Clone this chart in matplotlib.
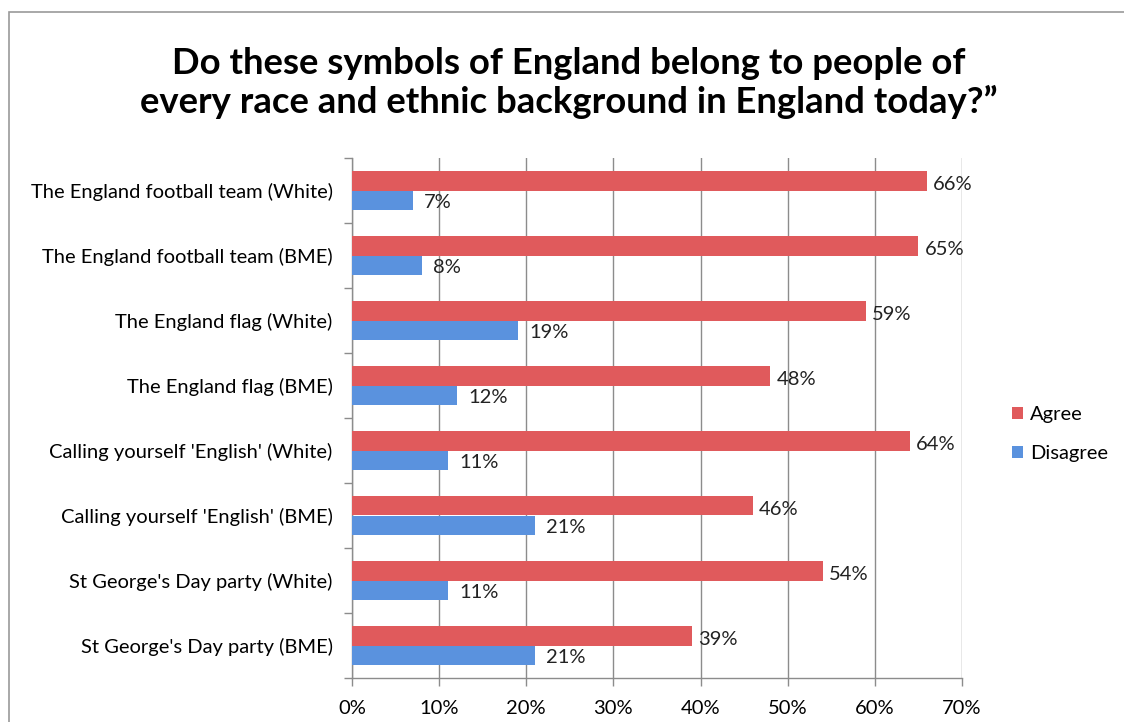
import matplotlib.pyplot as plt
from matplotlib.patches import Rectangle
import numpy as np

# ----------------- Data -----------------
categories = [
    "The England football team (White)",
    "The England football team (BME)",
    "The England flag (White)",
    "The England flag (BME)",
    "Calling yourself 'English' (White)",
    "Calling yourself 'English' (BME)",
    "St George's Day party (White)",
    "St George's Day party (BME)",
]
agree = [66, 65, 59, 48, 64, 46, 54, 39]
disagree = [7, 8, 19, 12, 11, 21, 11, 21]
x_ticks = [0, 10, 20, 30, 40, 50, 60, 70]

title = "Do these symbols of England belong to people of\nevery race and ethnic background in England today?\u201d"

RED = "#E05A5C"
BLUE = "#5A92DE"
GRID = "#8c8c8c"

plt.rcParams["font.family"] = ["Lato", "DejaVu Sans"]

fig = plt.figure(figsize=(11.24, 7.22), dpi=100)
W, H = 1124, 722
ax = fig.add_axes([352 / W, 1 - 678 / H, (962 - 352) / W, (678 - 158) / H])

# frame round the chart (only top and left are visible)
fig.patches.append(Rectangle((9 / W, -0.1), 1.2, 1 - 12 / H + 0.1, transform=fig.transFigure,
                             fill=False, edgecolor="#9a9a9a", linewidth=1.2, zorder=0))

y = np.arange(len(categories))
h = 0.3
ax.barh(y - h / 2, agree, height=h, color=RED, zorder=3, label="Agree")
ax.barh(y + h / 2, disagree, height=h, color=BLUE, zorder=3, label="Disagree")

for i in range(len(categories)):
    ax.text(agree[i] + 0.7, y[i] - h / 2 + 0.06, f"{agree[i]}%", va="center", ha="left",
            fontsize=14.5, color="#222222")
    ax.text(disagree[i] + 1.3, y[i] + h / 2 + 0.03, f"{disagree[i]}%", va="center", ha="left",
            fontsize=14.5, color="#222222")

ax.set_ylim(len(categories) - 0.5, -0.5)
ax.set_xlim(0, 70)
ax.set_xticks(x_ticks)
ax.set_xticklabels([f"{t}%" for t in x_ticks], fontsize=14.5)
ax.set_yticks(y)
ax.set_yticklabels(categories, fontsize=14.5)
ax.set_yticks(np.arange(len(categories) + 1) - 0.5, minor=True)

ax.tick_params(axis="y", which="major", length=0, pad=14)
ax.tick_params(axis="y", which="minor", length=6, color=GRID, width=1)
ax.tick_params(axis="x", length=6, color=GRID, width=1, pad=10)

ax.grid(axis="x", color=GRID, linewidth=1, zorder=0)
for s in ["top", "right"]:
    ax.spines[s].set_visible(False)
for s in ["left", "bottom"]:
    ax.spines[s].set_color(GRID)
    ax.spines[s].set_linewidth(1)

fig.text(569 / W, 1 - 83 / H, title, ha="center", va="center", fontsize=26.3,
         fontweight="bold", linespacing=1.2)

handles, labels = ax.get_legend_handles_labels()
fig.legend(handles, labels, loc="center left", bbox_to_anchor=(994 / W, 1 - 434 / H),
           frameon=False, fontsize=14.5, handlelength=0.55, handleheight=0.55,
           labelspacing=1.1, handletextpad=0.35)

plt.savefig("out.png", dpi=100)
